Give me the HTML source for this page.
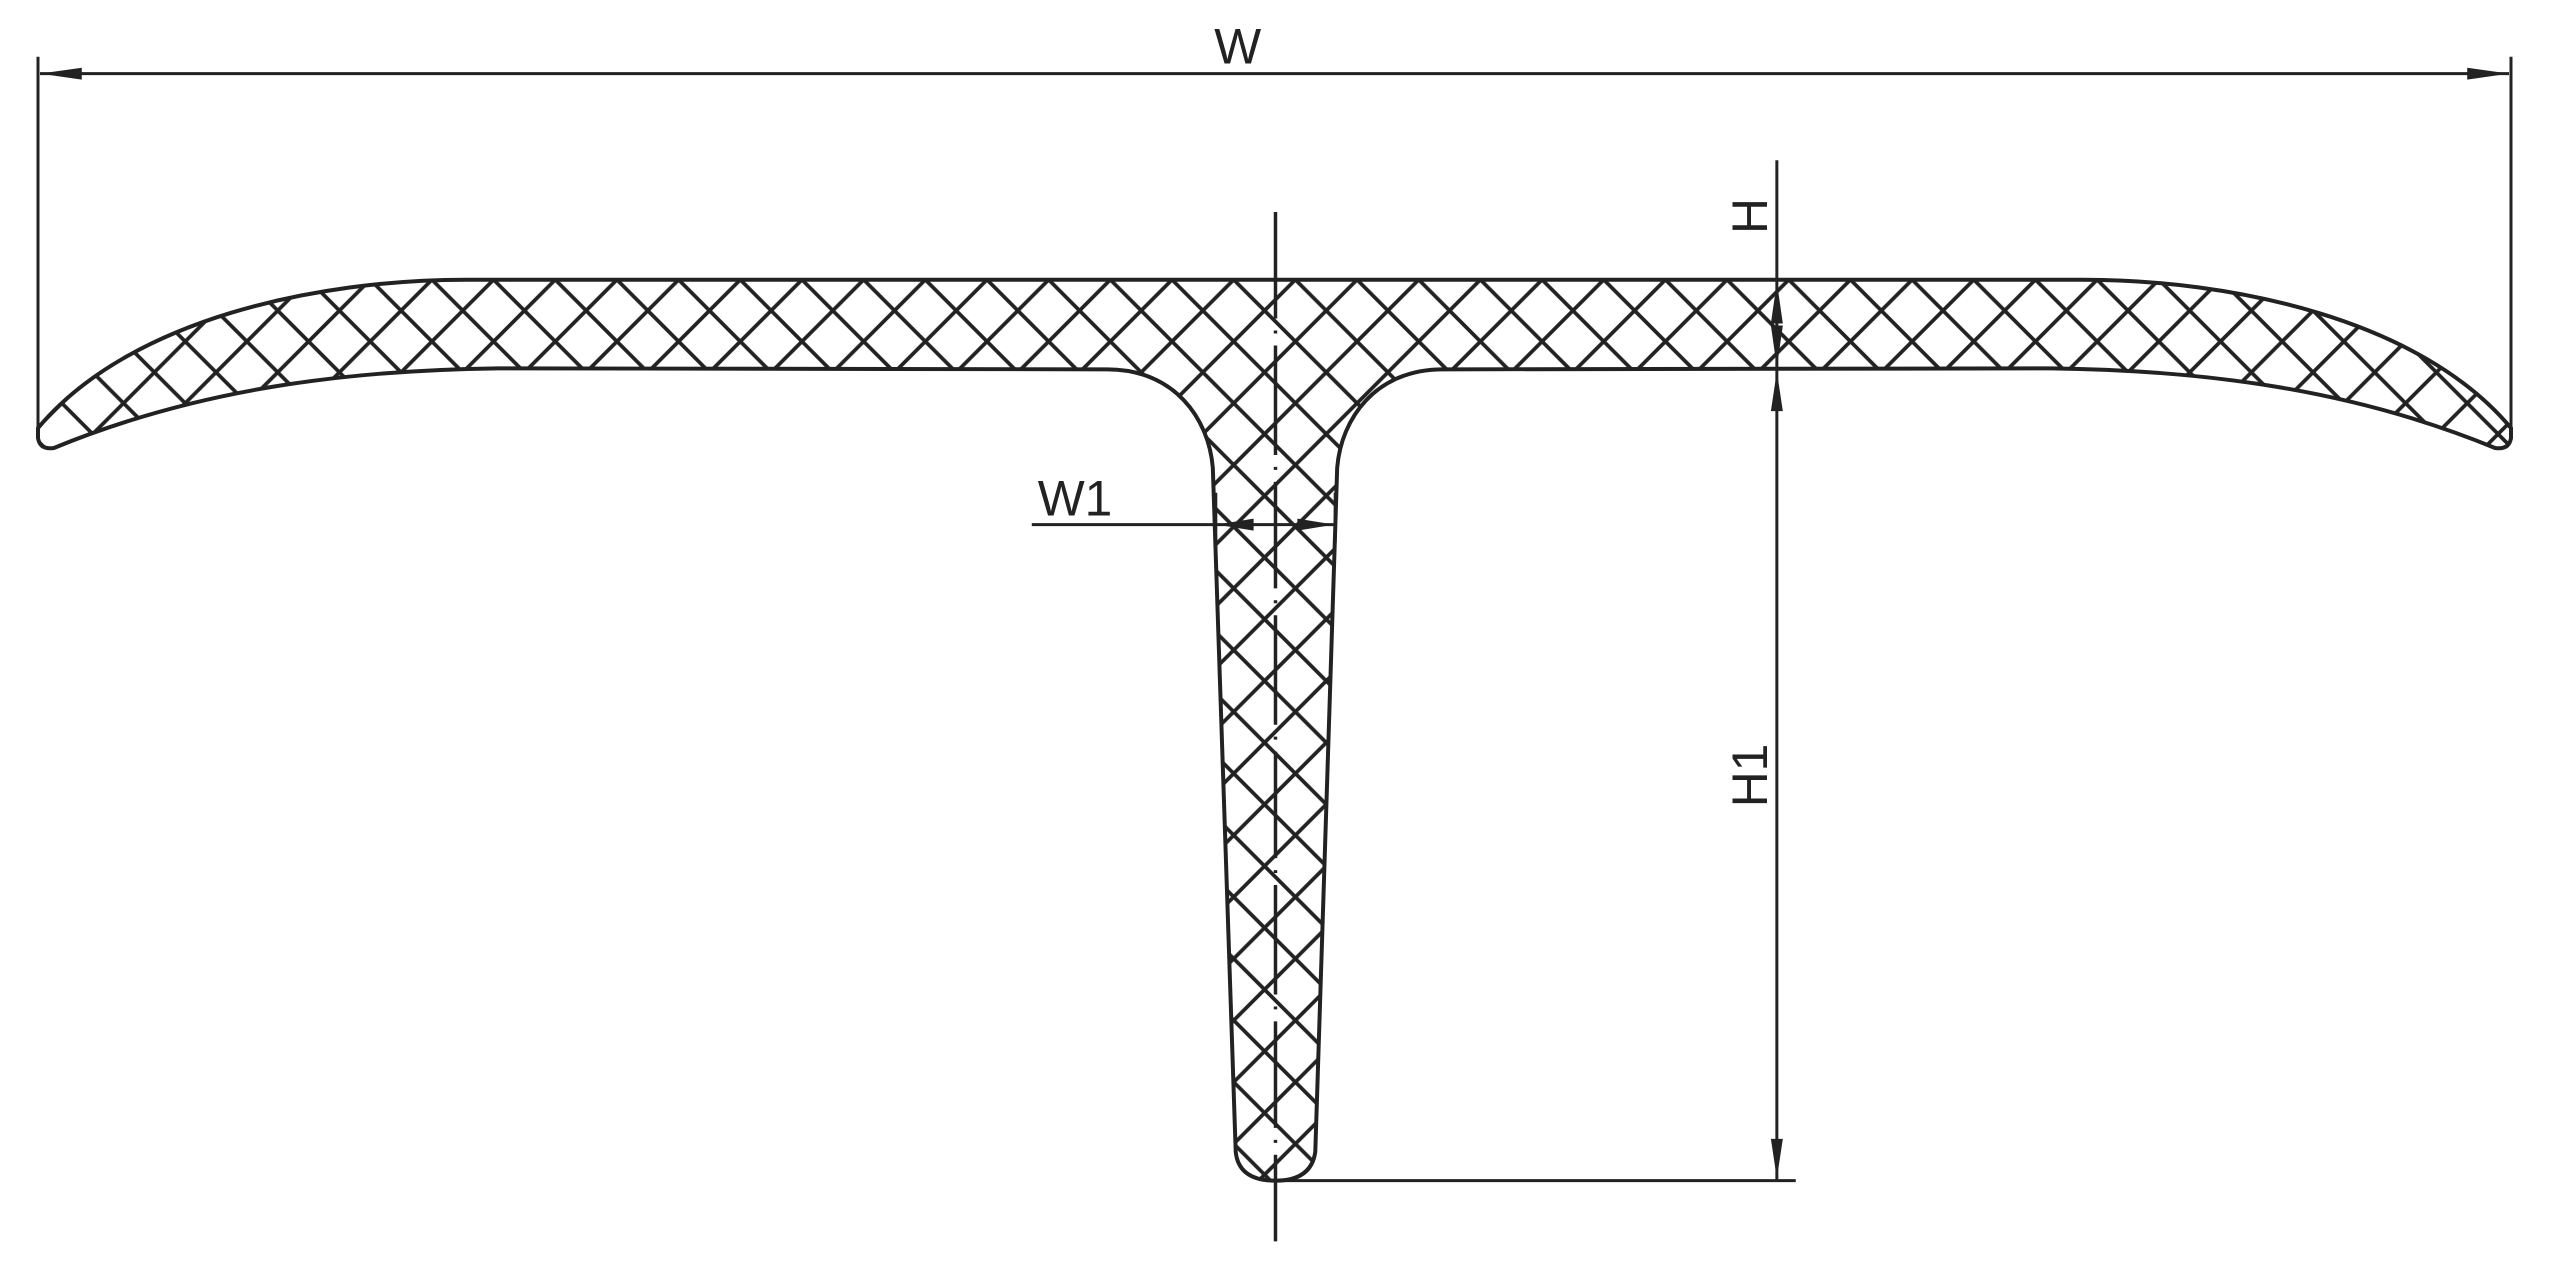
<!DOCTYPE html>
<html><head><meta charset="utf-8"><style>
html,body{margin:0;padding:0;background:#fff;}
svg{display:block;}
</style></head><body>
<svg width="2560" height="1279" viewBox="0 0 2560 1279" xmlns="http://www.w3.org/2000/svg">
<defs>
<pattern id="h" patternUnits="userSpaceOnUse" width="62" height="62" x="0" y="281">
<path d="M-2,64 L64,-2 M-2,-2 L64,64 M-33,33 L33,-33 M29,95 L95,29 M-33,29 L33,95 M29,-33 L95,33" stroke="#222" stroke-width="3.8" fill="none"/>
</pattern>
<clipPath id="c"><path d="M468,281 L2094,281 C2242,281 2432,320 2524,430 L2524,440 Q2522,452 2508,450 C2362,390 2212,372 2062,370 L1450,371 C1383,371 1348,420 1344,470 L1322,1157 Q1318,1186 1282,1186 Q1245,1186 1242,1157 L1219,470 C1215,420 1180,371 1113,371 L500,370 C350,372 200,390 54,450 Q40,452 38,440 L38,430 C130,320 320,281 468,281 Z"/></clipPath>
</defs>
<g transform="translate(38,0) scale(0.99477,0.9955) translate(-38,0)">
<rect x="0" y="0" width="2560" height="1279" fill="url(#h)" clip-path="url(#c)"/>
<path d="M468,281 L2094,281 C2242,281 2432,320 2524,430 L2524,440 Q2522,452 2508,450 C2362,390 2212,372 2062,370 L1450,371 C1383,371 1348,420 1344,470 L1322,1157 Q1318,1186 1282,1186 Q1245,1186 1242,1157 L1219,470 C1215,420 1180,371 1113,371 L500,370 C350,372 200,390 54,450 Q40,452 38,440 L38,430 C130,320 320,281 468,281 Z" fill="none" stroke="#222" stroke-width="4"/>
<g stroke="#222" stroke-width="3" fill="none">
<line x1="38" y1="57" x2="38" y2="432"/>
<line x1="2524" y1="57" x2="2524" y2="432"/>
<line x1="40" y1="74" x2="2522" y2="74"/>
<line x1="1282" y1="213" x2="1282" y2="1247" stroke-width="3.5" stroke-dasharray="107 12 3 12 110 12 3 12"/>
<line x1="1786" y1="161" x2="1786" y2="1186"/>
<line x1="1282" y1="1186" x2="1805" y2="1186"/>
<line x1="1037" y1="527" x2="1343" y2="527"/>
<line x1="1222" y1="495" x2="1222" y2="545"/>
<line x1="1342" y1="495" x2="1342" y2="545"/>
</g>
<g fill="#222">
<polygon points="40,74 82,68 82,80"/>
<polygon points="2522,74 2480,68 2480,80"/>
<polygon points="1786,283 1780,325 1792,325"/>
<polygon points="1786,369 1780,327 1792,327"/>
<polygon points="1786,373 1780,413 1792,413"/>
<polygon points="1786,1184 1780,1144 1792,1144"/>
<polygon points="1223,527 1260,521 1260,533"/>
<polygon points="1341,527 1304,521 1304,533"/>
</g>
<g font-family="Liberation Sans, sans-serif" font-size="50" fill="#222">
<text x="1244" y="64" text-anchor="middle">W</text>
<text x="1043" y="518">W1</text>
<text transform="translate(1776,217) rotate(-90)" text-anchor="middle">H</text>
<text transform="translate(1776,779) rotate(-90)" text-anchor="middle">H1</text>
</g>
</g>
</svg>
</body></html>
